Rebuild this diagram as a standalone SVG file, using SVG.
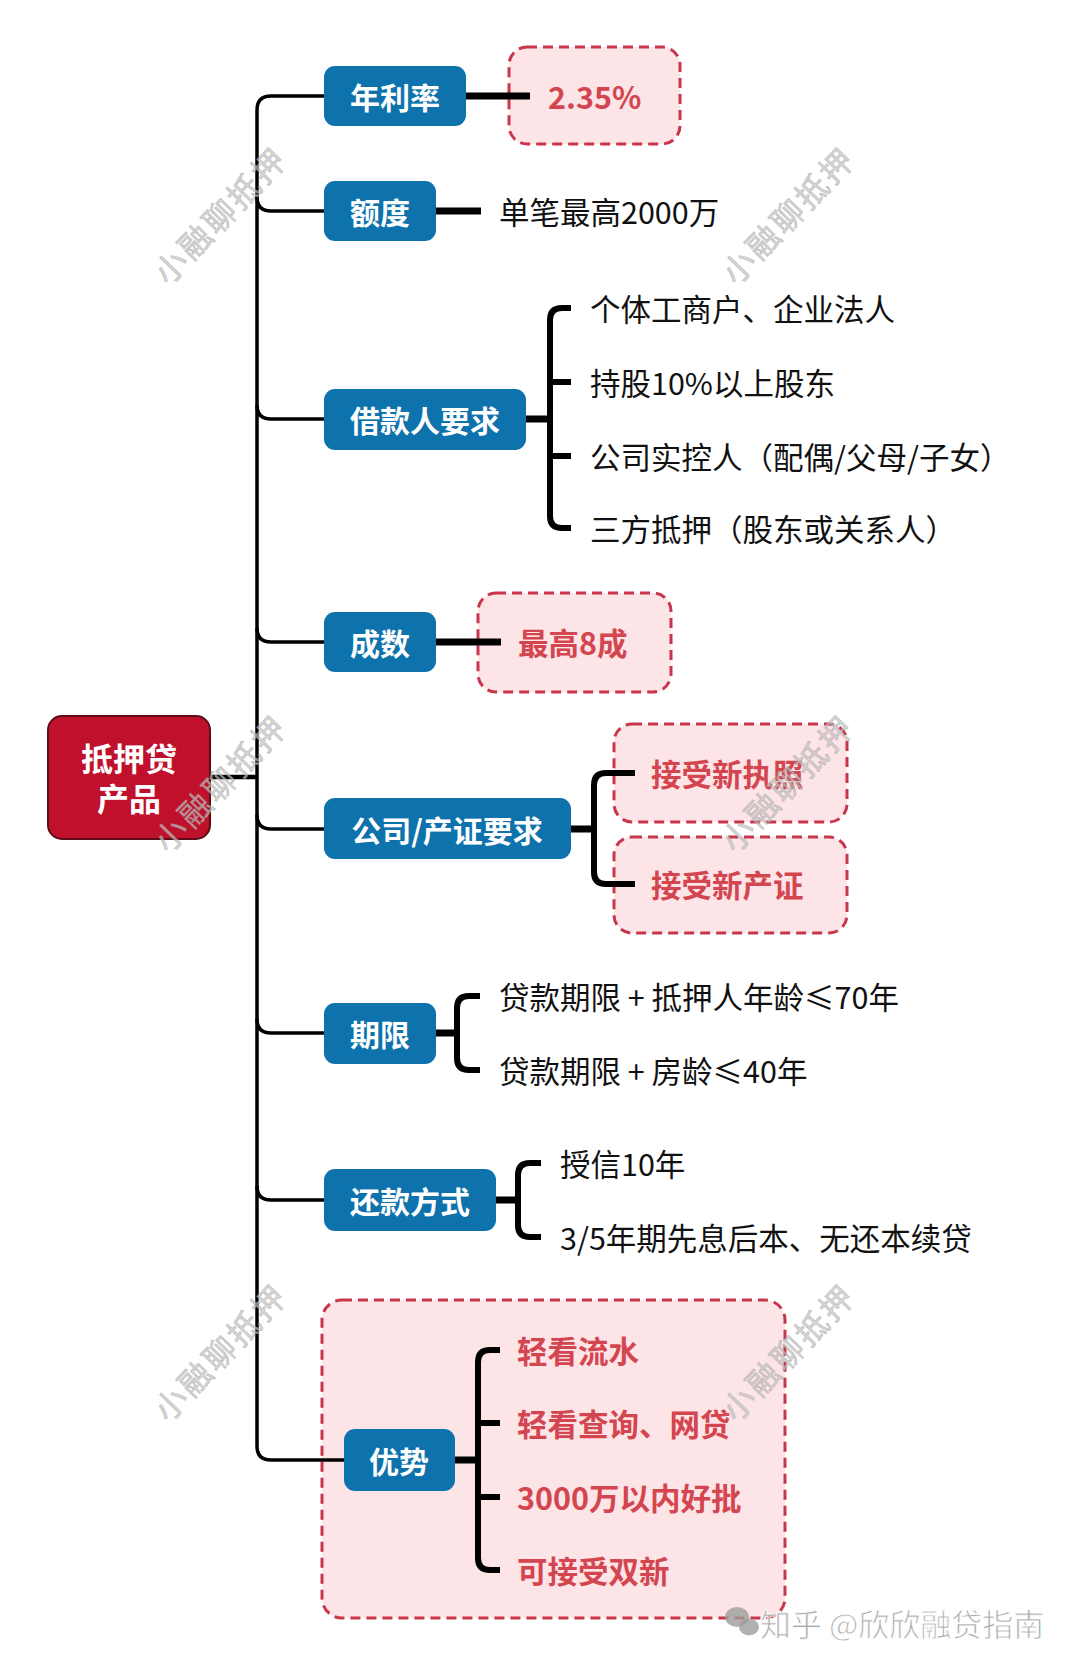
<svg xmlns="http://www.w3.org/2000/svg" width="1080" height="1667" viewBox="0 0 1080 1667">
<defs>
<style>
.blue{fill:#0e72ad;}
.root{fill:#c0112c;stroke:#5c0d18;stroke-width:2;}
.pink{fill:#fde4e7;stroke:#c9364b;stroke-width:3;stroke-dasharray:10 6;}
.bt{font-family:"Noto Sans CJK SC","Noto Sans",sans-serif;font-weight:700;font-size:30px;fill:#ffffff;text-anchor:middle;dominant-baseline:central;}
.rt{font-family:"Noto Sans CJK SC","Noto Sans",sans-serif;font-weight:700;font-size:30.5px;fill:#d4464f;dominant-baseline:central;}
.nt{font-family:"Noto Sans CJK SC","Noto Sans",sans-serif;font-weight:400;font-size:30.5px;fill:#111111;dominant-baseline:central;}
.ln{fill:none;stroke:#000000;stroke-width:3.5;}
.thick{fill:none;stroke:#000000;stroke-width:7;}
.br{fill:none;stroke:#000000;stroke-width:6;}
.wm{font-family:"Noto Sans CJK SC","Noto Sans",sans-serif;font-weight:400;font-size:32px;fill:#c4c4c4;fill-opacity:0.7;stroke:#9a9a9a;stroke-width:0.6;stroke-opacity:0.6;text-anchor:middle;dominant-baseline:central;letter-spacing:3px;}
</style>
</defs>
<rect width="1080" height="1667" fill="#ffffff"/>

<!-- pink background nodes -->
<g id="n-adv-box"><rect class="pink" x="322" y="1300" width="463" height="318" rx="20"/></g>
<g id="n-rate-val"><rect class="pink" x="509" y="47" width="171" height="97" rx="18"/><text class="rt" x="548" y="96">2.35%</text></g>
<g id="n-ratio-val"><rect class="pink" x="478" y="593" width="193" height="99" rx="18"/><text class="rt" x="518" y="642">最高8成</text></g>
<g id="n-lic"><rect class="pink" x="614" y="724" width="233" height="98" rx="18"/><text class="rt" x="651" y="773">接受新执照</text></g>
<g id="n-cert"><rect class="pink" x="614" y="837" width="233" height="96" rx="18"/><text class="rt" x="651" y="884">接受新产证</text></g>

<!-- connectors -->
<g id="connectors">
<path class="ln" d="M210,777 L257,777" style="stroke-width:4.5"/>
<path class="ln" d="M324,96 L271,96 Q257,96 257,110 L257,1446 Q257,1460 271,1460 L344,1460"/>
<path class="ln" d="M257,197 Q257,211 271,211 L324,211"/>
<path class="ln" d="M257,405 Q257,419 271,419 L324,419"/>
<path class="ln" d="M257,628 Q257,642 271,642 L324,642"/>
<path class="ln" d="M257,815 Q257,829 271,829 L324,829"/>
<path class="ln" d="M257,1019 Q257,1033 271,1033 L324,1033"/>
<path class="ln" d="M257,1186 Q257,1200 271,1200 L324,1200"/>
<path class="thick" d="M466,96 L530,96"/>
<path class="thick" d="M436,211 L481,211"/>
<path class="thick" d="M436,642 L501,642"/>
<path class="thick" d="M526,419 L550,419"/>
<path class="br" d="M571,308 L562,308 Q550,308 550,320 L550,516 Q550,528 562,528 L571,528 M550,382 L571,382 M550,456 L571,456"/>
<path class="thick" d="M571,829 L594,829"/>
<path class="br" d="M635,773 L606,773 Q594,773 594,785 L594,872 Q594,884 606,884 L635,884"/>
<path class="thick" d="M436,1033 L457,1033"/>
<path class="br" d="M480,996 L469,996 Q457,996 457,1008 L457,1058 Q457,1070 469,1070 L480,1070"/>
<path class="thick" d="M496,1200 L518,1200"/>
<path class="br" d="M541,1163 L530,1163 Q518,1163 518,1175 L518,1225 Q518,1237 530,1237 L541,1237"/>
<path class="thick" d="M455,1460 L478,1460"/>
<path class="br" d="M500,1350 L490,1350 Q478,1350 478,1362 L478,1558 Q478,1570 490,1570 L500,1570 M478,1423 L500,1423 M478,1497 L500,1497"/>
</g>

<!-- root -->
<g id="n-root"><rect class="root" x="48" y="716" width="162" height="123" rx="14"/><text class="bt" x="129" y="757" style="font-size:32px">抵押贷</text><text class="bt" x="129" y="797" style="font-size:32px">产品</text></g>

<!-- blue nodes -->
<g id="n-rate"><rect class="blue" x="324" y="66" width="142" height="60" rx="11"/><text class="bt" x="395" y="96">年利率</text></g>
<g id="n-amount"><rect class="blue" x="324" y="181" width="112" height="60" rx="11"/><text class="bt" x="380" y="211">额度</text></g>
<g id="n-amount-val"><text class="nt" x="499" y="211">单笔最高2000万</text></g>
<g id="n-borrower"><rect class="blue" x="324" y="389" width="202" height="61" rx="11"/><text class="bt" x="425" y="419">借款人要求</text></g>
<g id="n-b1"><text class="nt" x="590" y="308">个体工商户、企业法人</text></g>
<g id="n-b2"><text class="nt" x="590" y="382">持股10%以上股东</text></g>
<g id="n-b3"><text class="nt" x="590" y="456">公司实控人（配偶/父母/子女）</text></g>
<g id="n-b4"><text class="nt" x="590" y="528">三方抵押（股东或关系人）</text></g>
<g id="n-ratio"><rect class="blue" x="324" y="612" width="112" height="60" rx="11"/><text class="bt" x="380" y="642">成数</text></g>
<g id="n-company"><rect class="blue" x="324" y="798" width="247" height="61" rx="11"/><text class="bt" x="447" y="829">公司/产证要求</text></g>
<g id="n-term"><rect class="blue" x="324" y="1003" width="112" height="61" rx="11"/><text class="bt" x="380" y="1033">期限</text></g>
<g id="n-t1"><text class="nt" x="499" y="996">贷款期限 + 抵押人年龄≤70年</text></g>
<g id="n-t2"><text class="nt" x="499" y="1070">贷款期限 + 房龄≤40年</text></g>
<g id="n-repay"><rect class="blue" x="324" y="1169" width="172" height="62" rx="11"/><text class="bt" x="410" y="1200">还款方式</text></g>
<g id="n-r1"><text class="nt" x="560" y="1163">授信10年</text></g>
<g id="n-r2"><text class="nt" x="560" y="1237">3/5年期先息后本、无还本续贷</text></g>
<g id="n-adv"><rect class="blue" x="344" y="1429" width="111" height="62" rx="11"/><text class="bt" x="399" y="1460">优势</text></g>
<g id="n-a1"><text class="rt" x="517" y="1350">轻看流水</text></g>
<g id="n-a2"><text class="rt" x="517" y="1423">轻看查询、网贷</text></g>
<g id="n-a3"><text class="rt" x="517" y="1497">3000万以内好批</text></g>
<g id="n-a4"><text class="rt" x="517" y="1570">可接受双新</text></g>

<!-- watermarks -->
<g id="watermarks">
<text class="wm" x="219" y="214" transform="rotate(-46 219 214)">小融聊抵押</text>
<text class="wm" x="787" y="214" transform="rotate(-46 787 214)">小融聊抵押</text>
<text class="wm" x="219" y="782" transform="rotate(-46 219 782)">小融聊抵押</text>
<text class="wm" x="786" y="782" transform="rotate(-46 786 782)">小融聊抵押</text>
<text class="wm" x="219" y="1351" transform="rotate(-46 219 1351)">小融聊抵押</text>
<text class="wm" x="787" y="1351" transform="rotate(-46 787 1351)">小融聊抵押</text>
<g fill="#9e9e9e" fill-opacity="0.8">
<ellipse cx="737" cy="1617" rx="12" ry="10"/>
<ellipse cx="749" cy="1627" rx="10" ry="8.5"/>
</g>
<text x="760" y="1622" style="font-family:'Noto Sans CJK SC','Noto Sans',sans-serif;font-size:31px;fill:#a0a0a0;fill-opacity:0.9;stroke:#ffffff;stroke-width:0.8;dominant-baseline:central;">知乎 @欣欣融贷指南</text>
</g>
</svg>
